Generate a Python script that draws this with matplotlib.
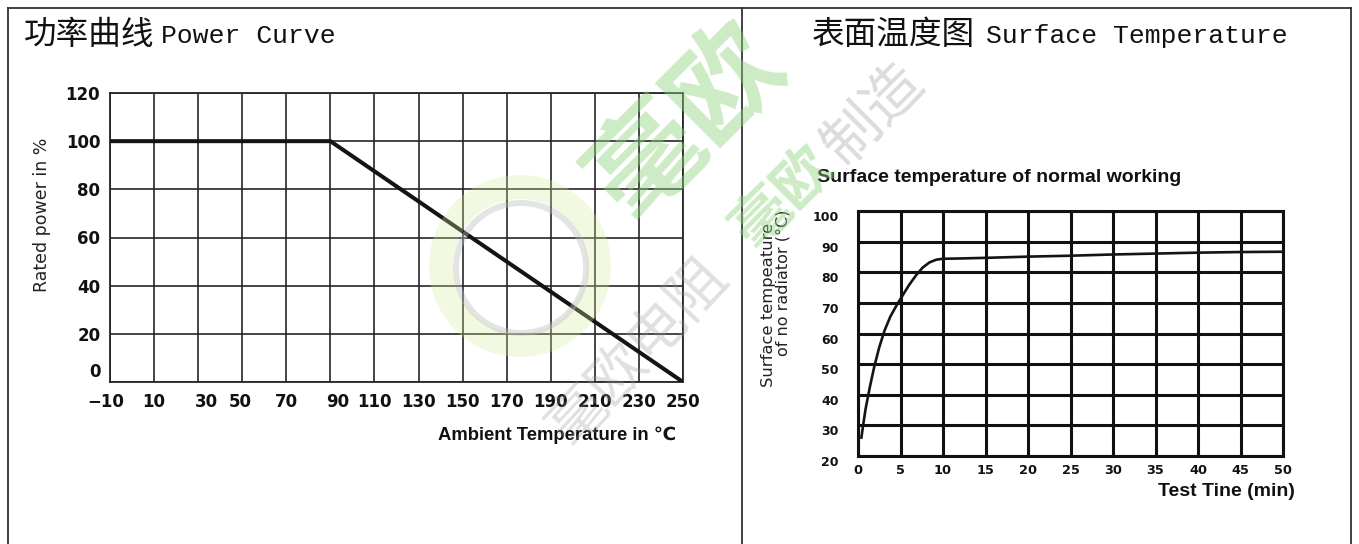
import matplotlib
matplotlib.use("Agg")
import matplotlib.pyplot as plt
from matplotlib import font_manager
from matplotlib.lines import Line2D
from matplotlib.patches import Wedge
from matplotlib.transforms import ScaledTranslation

# ---------------- data ----------------
power_temp = [-10, 90, 250]          # ambient temperature (°C)
power_pct = [100, 100, 0]            # rated power (%)
power_xticks = [-10, 10, 30, 50, 70, 90, 110, 130, 150, 170, 190, 210, 230, 250]
power_yticks = [0, 20, 40, 60, 80, 100, 120]

surf_time = [0.4, 0.6, 0.9, 1.4, 1.9, 2.5, 3.1, 3.8, 4.5, 5.2, 6.0, 6.8, 7.6,
             8.4, 9.2, 10, 12, 15, 20, 25, 30, 35, 40, 45, 50]
surf_temp = [26, 30, 35.5, 42.6, 49, 55.5, 60.8, 65.5, 69, 72.2, 75.8, 78.9, 81.5,
             83.2, 84.1, 84.4, 84.5, 84.7, 85.1, 85.4, 85.8, 86.1, 86.4, 86.6, 86.7]
surf_xticks = [0, 5, 10, 15, 20, 25, 30, 35, 40, 45, 50]
surf_yticks = [20, 30, 40, 50, 60, 70, 80, 90, 100]

# ---------------- layout helpers ----------------
W, H = 1359, 544
fig = plt.figure(figsize=(W / 100, H / 100), dpi=100)
fig.patch.set_facecolor("white")


def fx(px):
    return px / W


def fy(py):
    return 1 - py / H


avail = {f.name for f in font_manager.fontManager.ttflist}
NARROW = "Liberation Sans Narrow" if "Liberation Sans Narrow" in avail else "Liberation Sans"
CJK = "Noto Sans CJK SC"
MONO = "Liberation Mono"


def nudge(text, dx_px, dy_px):
    text.set_transform(text.get_transform() +
                       ScaledTranslation(dx_px / 100, dy_px / 100, fig.dpi_scale_trans))


# ---------------- frame ----------------
frame_col = "#333333"
for (x0, y0, x1, y1) in [(8, 8, 1351, 8), (8, 8, 8, 544), (1351, 8, 1351, 544),
                         (742, 8, 742, 544)]:
    fig.add_artist(Line2D([fx(x0), fx(x1)], [fy(y0), fy(y1)], color=frame_col,
                          lw=1.3, transform=fig.transFigure, zorder=1))

# ---------------- titles ----------------
fig.text(fx(24), fy(44), "功率曲线", family=[CJK, "DejaVu Sans"], fontsize=23.5,
         va="baseline", ha="left", color="#111111")
fig.text(fx(161), fy(43), "Power Curve", family=[MONO, "DejaVu Sans Mono"], fontsize=19,
         va="baseline", ha="left", color="#111111")
fig.text(fx(812), fy(44), "表面温度图", family=[CJK, "DejaVu Sans"], fontsize=23.5,
         va="baseline", ha="left", color="#111111")
fig.text(fx(986), fy(43), "Surface Temperature", family=[MONO, "DejaVu Sans Mono"],
         fontsize=19, va="baseline", ha="left", color="#111111")

# ---------------- left chart: power curve ----------------
ax1 = fig.add_axes([fx(110), fy(382), (683 - 110) / W, (382 - 93) / H])
ax1.set_facecolor("none")
ax1.plot(power_temp, power_pct, color="#141414", lw=2.9, solid_capstyle="butt",
         solid_joinstyle="miter", zorder=3)
ax1.set_xlim(-10, 250)
ax1.set_ylim(0, 120)
ax1.set_xticks(power_xticks, labels=[f"{v}".replace("-", "\u2212") for v in power_xticks],
               fontsize=12, fontweight="bold", family="DejaVu Sans", color="#111111")
ax1.set_yticks(power_yticks, labels=[f"{v}" for v in power_yticks],
               fontsize=12, fontweight="bold", family="DejaVu Sans", color="#111111")
ax1.grid(True, color="#262626", lw=1.2)
ax1.set_axisbelow(True)
ax1.tick_params(axis="x", length=0, pad=8)
ax1.tick_params(axis="y", length=0, pad=7)
for s in ax1.spines.values():
    s.set_color("#262626")
    s.set_linewidth(1.3)

x_nudges = {-10: -4, 30: 8, 50: -2, 90: 7}
for tick, v in zip(ax1.xaxis.get_major_ticks(), power_xticks):
    if v in x_nudges:
        nudge(tick.label1, x_nudges[v], 0)
for tick, v in zip(ax1.yaxis.get_major_ticks(), power_yticks):
    if v == 0:
        nudge(tick.label1, 0, 12)

fig.text(fx(42), fy(215), "Rated power in %", rotation=90, ha="center", va="center",
         fontsize=12.5, family="DejaVu Sans", color="#222222")
fig.text(fx(557), fy(435), "Ambient Temperature in ℃", ha="center", va="center",
         fontsize=13.3, family=[NARROW, "DejaVu Sans"], fontweight="bold", color="#111111")

# ---------------- right chart: surface temperature ----------------
ax2 = fig.add_axes([fx(858), fy(456), (1283 - 858) / W, (456 - 211) / H])
ax2.set_facecolor("none")
ax2.plot(surf_time, surf_temp, color="#141414", lw=1.9, zorder=3)
ax2.set_xlim(0, 50)
ax2.set_ylim(20, 100)
ax2.set_xticks(surf_xticks, labels=[f"{v}" for v in surf_xticks], fontsize=9.3,
               fontweight="bold", family="DejaVu Sans", color="#111111")
ax2.set_yticks(surf_yticks, labels=[f"{v}" for v in surf_yticks], fontsize=9,
               fontweight="bold", family="DejaVu Sans", color="#111111")
ax2.grid(True, color="#111111", lw=2.2)
ax2.set_axisbelow(True)
ax2.tick_params(axis="x", length=0, pad=6)
ax2.tick_params(axis="y", length=0, pad=14)
for s in ax2.spines.values():
    s.set_color("#111111")
    s.set_linewidth(2.2)
for tick in ax2.yaxis.get_major_ticks():
    nudge(tick.label1, 0, -5)

fig.text(fx(999), fy(178), "Surface temperature of normal working", ha="center",
         va="center", fontsize=14, family=[NARROW, "DejaVu Sans"], fontweight="bold",
         color="#111111")
fig.text(fx(1226), fy(492), "Test Tine (min)", ha="center", va="center",
         fontsize=14, family=[NARROW, "DejaVu Sans"], fontweight="bold", color="#111111")
fig.text(fx(768), fy(305), "Surface tempeature", rotation=90, ha="center", va="center",
         fontsize=11.8, family="DejaVu Sans", color="#222222")
fig.text(fx(783), fy(283), "of no radiator (°C)", rotation=90, ha="center", va="center",
         fontsize=11.5, family="DejaVu Sans", color="#222222")

# ---------------- watermarks ----------------
def inch(px, py):
    return (px / 100, (H - py) / 100)


ring = Wedge(inch(520, 266), 0.91, 0, 360, width=0.24, facecolor="#d6ec9c",
             edgecolor="none", alpha=0.3, transform=fig.dpi_scale_trans, zorder=4)
fig.add_artist(ring)
gray_ring = Wedge(inch(521, 268), 0.68, 0, 360, width=0.06, facecolor="#bdbdbd",
                  edgecolor="none", alpha=0.4, transform=fig.dpi_scale_trans, zorder=4)
fig.add_artist(gray_ring)

fig.text(fx(688), fy(122), "毫欧", rotation=45, ha="center", va="center",
         fontsize=80, family=[CJK], fontweight="bold", color="#8fd37c", alpha=0.45,
         zorder=5)
fig.text(fx(784), fy(198), "毫欧", rotation=45, ha="center", va="center",
         fontsize=42, family=[CJK], fontweight="bold", color="#8fd37c", alpha=0.45,
         zorder=5)
fig.text(fx(874), fy(115), "制造", rotation=45, ha="center", va="center",
         fontsize=42, family=[CJK], color="#9a9a9a", alpha=0.35, zorder=5)
fig.text(fx(639), fy(352), "毫欧电阻", rotation=47, ha="center", va="center",
         fontsize=42, family=[CJK], color="#9a9a9a", alpha=0.3, zorder=5)

fig.savefig("out.png", dpi=100, facecolor="white")
